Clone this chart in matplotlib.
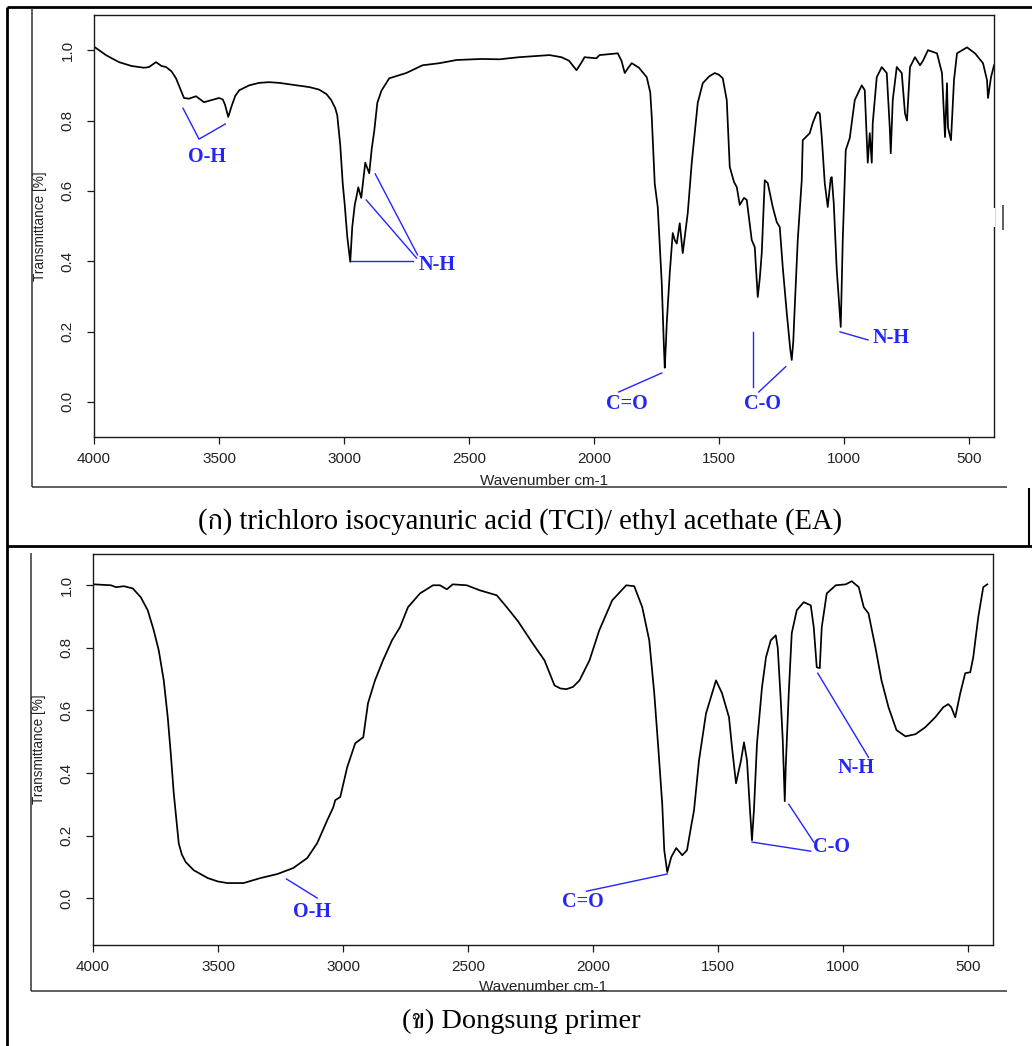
import matplotlib
matplotlib.use("Agg")
import matplotlib.pyplot as plt
from matplotlib.lines import Line2D
from matplotlib import font_manager as fm
from matplotlib.ft2font import FT2Font

# ---------------- data ----------------
wn1 = [4000, 3950, 3900, 3850, 3800, 3780, 3752, 3730, 3712, 3690, 3672, 3655, 3640, 3620, 3592,
       3575, 3560, 3530, 3500, 3485, 3476, 3463, 3450, 3435, 3419, 3379, 3340, 3299, 3259, 3219,
       3139, 3100, 3070, 3051, 3035, 3027, 3015, 3005, 2997, 2987, 2975, 2967, 2957, 2951, 2943,
       2931, 2915, 2899, 2889, 2879, 2867, 2850, 2819, 2751, 2686, 2618, 2550, 2450, 2378, 2300,
       2178, 2130, 2100, 2070, 2050, 2038, 1990, 1978, 1905, 1890, 1877, 1863, 1849, 1820, 1789,
       1775, 1769, 1757, 1745, 1729, 1720, 1717, 1712, 1709, 1697, 1685, 1677, 1669, 1657, 1645,
       1625, 1609, 1585, 1565, 1540, 1517, 1500, 1485, 1469, 1457, 1440, 1429, 1417, 1400, 1389,
       1369, 1357, 1345, 1337, 1329, 1317, 1305, 1285, 1269, 1257, 1245, 1229, 1215, 1209, 1203,
       1197, 1185, 1169, 1165, 1137, 1125, 1110, 1105, 1097, 1089, 1077, 1065, 1053, 1049, 1041,
       1029, 1013, 1005, 993, 977, 957, 929, 917, 909, 905, 897, 889, 885, 869, 849,
       829, 817, 813, 805, 789, 769, 756, 748, 736, 716, 696, 684, 664, 628, 608,
       600, 596, 588, 584, 572, 560, 548, 508, 476, 444, 428, 424, 412, 400]
tr1 = [1.010, 0.985, 0.966, 0.955, 0.950, 0.952, 0.966, 0.955, 0.952, 0.940, 0.920, 0.890, 0.864, 0.862, 0.869,
       0.860, 0.852, 0.858, 0.864, 0.860, 0.845, 0.810, 0.840, 0.870, 0.886, 0.900, 0.907, 0.909, 0.907, 0.903,
       0.895, 0.888, 0.875, 0.858, 0.835, 0.815, 0.730, 0.620, 0.560, 0.470, 0.398, 0.497, 0.560, 0.580, 0.610,
       0.580, 0.680, 0.650, 0.720, 0.770, 0.850, 0.885, 0.920, 0.935, 0.957, 0.963, 0.972, 0.975, 0.974, 0.980,
       0.986, 0.980, 0.970, 0.943, 0.965, 0.980, 0.977, 0.986, 0.991, 0.970, 0.935, 0.950, 0.963, 0.950, 0.923,
       0.880, 0.810, 0.620, 0.554, 0.338, 0.150, 0.097, 0.170, 0.224, 0.366, 0.480, 0.460, 0.450, 0.508, 0.423,
       0.537, 0.680, 0.850, 0.906, 0.925, 0.935, 0.930, 0.920, 0.858, 0.668, 0.625, 0.611, 0.560, 0.580, 0.574,
       0.460, 0.440, 0.298, 0.350, 0.423, 0.630, 0.622, 0.554, 0.511, 0.497, 0.383, 0.253, 0.150, 0.119, 0.170,
       0.270, 0.460, 0.630, 0.744, 0.764, 0.793, 0.820, 0.824, 0.820, 0.753, 0.622, 0.554, 0.636, 0.639, 0.565,
       0.375, 0.213, 0.460, 0.716, 0.750, 0.858, 0.900, 0.886, 0.744, 0.680, 0.764, 0.680, 0.793, 0.923, 0.952,
       0.935, 0.780, 0.707, 0.858, 0.952, 0.935, 0.820, 0.800, 0.952, 0.980, 0.957, 0.970, 1.000, 0.991, 0.935,
       0.810, 0.753, 0.906, 0.780, 0.744, 0.915, 0.991, 1.008, 0.991, 0.963, 0.915, 0.864, 0.923, 0.957]

wn2 = [4000, 3996, 3928, 3908, 3876, 3841, 3809, 3781, 3757, 3737, 3717, 3701, 3689, 3677, 3669,
       3657, 3645, 3629, 3597, 3541, 3500, 3462, 3398, 3330, 3262, 3199, 3143, 3103, 3063, 3039,
       3031, 3011, 2983, 2951, 2919, 2900, 2872, 2840, 2804, 2772, 2740, 2692, 2640, 2612, 2585,
       2561, 2505, 2453, 2385, 2345, 2300, 2242, 2194, 2154, 2130, 2106, 2080, 2054, 2014, 1975,
       1923, 1867, 1835, 1803, 1775, 1755, 1739, 1723, 1715, 1703, 1687, 1667, 1643, 1624, 1608,
       1596, 1576, 1548, 1508, 1484, 1456, 1444, 1428, 1408, 1396, 1384, 1372, 1364, 1356, 1344,
       1324, 1308, 1289, 1269, 1261, 1249, 1241, 1233, 1229, 1217, 1205, 1185, 1157, 1129, 1117,
       1105, 1093, 1085, 1065, 1029, 989, 965, 937, 917, 898, 870, 846, 818, 786, 750,
       710, 671, 631, 599, 579, 567, 551, 531, 511, 491, 479, 459, 439, 423]
tr2 = [1.000, 1.003, 1.000, 0.994, 0.997, 0.990, 0.962, 0.920, 0.856, 0.792, 0.696, 0.578, 0.463, 0.335, 0.270,
       0.175, 0.140, 0.115, 0.089, 0.064, 0.053, 0.048, 0.048, 0.064, 0.077, 0.096, 0.128, 0.176, 0.249, 0.290,
       0.313, 0.323, 0.419, 0.495, 0.514, 0.623, 0.696, 0.760, 0.824, 0.866, 0.930, 0.974, 1.000, 1.000, 0.987,
       1.003, 1.000, 0.984, 0.968, 0.930, 0.885, 0.815, 0.760, 0.680, 0.670, 0.668, 0.675, 0.696, 0.760, 0.856,
       0.952, 1.000, 0.997, 0.930, 0.824, 0.655, 0.482, 0.300, 0.153, 0.083, 0.131, 0.160, 0.137, 0.153, 0.227,
       0.280, 0.440, 0.590, 0.696, 0.655, 0.578, 0.482, 0.367, 0.440, 0.498, 0.440, 0.280, 0.185, 0.285, 0.495,
       0.674, 0.770, 0.824, 0.840, 0.800, 0.633, 0.505, 0.310, 0.420, 0.655, 0.847, 0.920, 0.946, 0.936, 0.866,
       0.738, 0.735, 0.866, 0.974, 1.000, 1.003, 1.013, 0.994, 0.930, 0.910, 0.800, 0.696, 0.610, 0.537, 0.517,
       0.524, 0.546, 0.578, 0.610, 0.620, 0.610, 0.578, 0.655, 0.719, 0.722, 0.770, 0.898, 0.994, 1.003]

xticks = [4000, 3500, 3000, 2500, 2000, 1500, 1000, 500]
yticks = [0.0, 0.2, 0.4, 0.6, 0.8, 1.0]
ytick_labels = ["0.0", "0.2", "0.4", "0.6", "0.8", "1.0"]
xlabel = "Wavenumber cm-1"
ylabel = "Transmittance [%]"
caption1 = "(ก) trichloro isocyanuric acid (TCI)/ ethyl acethate (EA)"
caption2 = "(ข) Dongsung primer"

# annotations: (label, label position, list of line segments) in data coords
ann1 = [
    ("O-H", (3547, 0.696), [[(3644, 0.835), (3580, 0.747), (3475, 0.790)]]),
    ("N-H", (2628, 0.389), [[(2971, 0.400), (2726, 0.400)],
                             [(2911, 0.574), (2710, 0.409)],
                             [(2875, 0.648), (2706, 0.418)]]),
    ("C=O", (1869, -0.006), [[(1729, 0.082), (1901, 0.028)]]),
    ("C-O", (1325, -0.006), [[(1365, 0.199), (1365, 0.043)],
                             [(1233, 0.100), (1341, 0.028)]]),
    ("N-H", (810, 0.182), [[(1016, 0.199), (904, 0.176)]]),
]
ann2 = [
    ("O-H", (3123, -0.045), [[(3226, 0.061), (3103, 0.000)]]),
    ("C=O", (2042, -0.013), [[(1703, 0.077), (2026, 0.022)]]),
    ("C-O", (1048, 0.163), [[(1364, 0.179), (1129, 0.150)],
                            [(1217, 0.300), (1117, 0.179)]]),
    ("N-H", (946, 0.415), [[(1101, 0.719), (898, 0.450)]]),
]

# ---------------- fonts ----------------
thai_fams = []
for f in fm.fontManager.ttflist:
    try:
        if 0x0E01 in FT2Font(f.fname).get_charmap() and f.name not in thai_fams:
            thai_fams.append(f.name)
    except Exception:
        pass
thai_fams.sort(key=lambda n: (0 if "Serif" in n else 1, n))
caption_family = ["Liberation Serif"] + thai_fams[:1] + ["DejaVu Serif"]

plt.rcParams["font.family"] = ["Liberation Sans", "DejaVu Sans"]

W, H = 1032, 1046
fig = plt.figure(figsize=(W / 100, H / 100), dpi=100)
fig.patch.set_facecolor("white")

BLUE = "#2424ff"
AXC = "#1a1a1a"


def setup(ax, ylim, wn, tr, ann):
    ax.plot(wn, tr, color="black", lw=1.25)
    ax.set_xlim(4000, 400)
    ax.set_ylim(*ylim)
    ax.set_xticks(xticks)
    ax.set_xticklabels([str(t) for t in xticks])
    ax.set_yticks(yticks)
    ax.set_yticklabels(ytick_labels)
    for s in ax.spines.values():
        s.set_linewidth(1.0)
        s.set_color(AXC)
    ax.tick_params(axis="both", direction="out", length=5, width=0.9, colors=AXC,
                   labelsize=11, labelcolor="#222222")
    ax.tick_params(axis="x", pad=6)
    ax.tick_params(axis="y", pad=9)
    for lab in ax.get_yticklabels():
        lab.set_rotation(90)
        lab.set_va("center")
    ax.set_ylabel(ylabel, fontsize=9.8, color="#222222")
    ax.yaxis.set_label_coords(-0.052, 0.5)
    ax.set_xlabel(xlabel, fontsize=11, color="#222222")
    for text, (tx, ty), segs in ann:
        for seg in segs:
            ax.plot([p[0] for p in seg], [p[1] for p in seg], color=BLUE, lw=1.0)
        ax.text(tx, ty, text, color=BLUE, fontsize=14.5, fontweight="bold",
                family=["Liberation Serif", "DejaVu Serif"], ha="center", va="center")


ax1 = fig.add_axes([94 / W, 1 - 437 / H, 900 / W, 422 / H])
setup(ax1, (-0.1, 1.1), wn1, tr1, ann1)
ax1.xaxis.set_label_coords(0.5, -0.088)

ax2 = fig.add_axes([93 / W, 1 - 945 / H, 900 / W, 391 / H])
setup(ax2, (-0.15, 1.10), wn2, tr2, ann2)
ax2.xaxis.set_label_coords(0.5, -0.09)


def fline(xs, ys, lw=1.0, color="black"):
    fig.add_artist(Line2D([x / W for x in xs], [1 - y / H for y in ys],
                          transform=fig.transFigure, color=color, lw=lw,
                          solid_capstyle="butt"))


# table borders
fline([7, 1032], [7, 7], lw=2.0)
fline([7, 7], [7, 1046], lw=2.0)
fline([7, 1032], [546, 546], lw=2.0)
fline([1029, 1029], [488, 546], lw=1.5)
# picture frames
fline([32, 32], [8, 487], lw=1.1, color="#333333")
fline([32, 1007], [487, 487], lw=1.1, color="#333333")
fline([31, 31], [553, 991], lw=1.1, color="#333333")
fline([31, 1007], [991, 991], lw=1.1, color="#333333")
fline([1003, 1003], [205, 230], lw=1.1, color="#333333")
fline([994, 994], [208, 227], lw=1.6, color="white")

fig.text(520 / W, 1 - 522 / H, caption1, family=caption_family, fontsize=20.6,
         ha="center", va="center", color="black")
fig.text(521 / W, 1 - 1021 / H, caption2, family=caption_family, fontsize=20.4,
         ha="center", va="center", color="black")

fig.savefig("out.png", dpi=100, facecolor="white")
